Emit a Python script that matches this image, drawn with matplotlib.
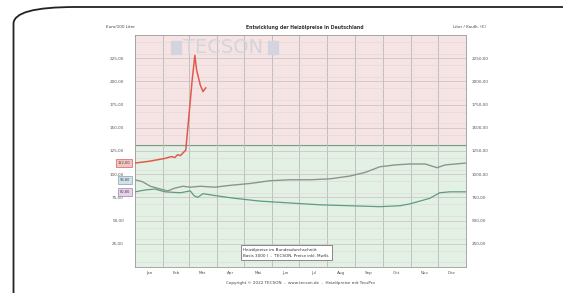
import numpy as np
import matplotlib
matplotlib.use("Agg")
import matplotlib.pyplot as plt
from matplotlib.patches import FancyBboxPatch, Rectangle
from matplotlib.ticker import FuncFormatter

# data (day of year, Euro/100 l)
months = ['Jan', 'Feb', 'Mrz', 'Apr', 'Mai', 'Jun', 'Jul', 'Aug', 'Sep', 'Okt', 'Nov', 'Dez']
month_starts = [0, 31, 59, 90, 120, 151, 181, 212, 243, 273, 304, 334, 365]

x_2022 = [0, 16, 33, 40, 44, 47, 50, 56, 59, 63, 66, 68, 72, 75, 78]
y_2022 = [112, 114, 117, 119, 118, 121, 120, 126, 158, 201, 228, 212, 196, 189, 193]

x_2021 = [0, 8, 17, 28, 36, 44, 53, 61, 72, 88, 105, 127, 149, 171, 193, 215, 237, 254, 270, 287, 303, 320, 333, 342, 365]
y_2021 = [94, 92, 87, 84, 82, 85, 87, 86, 87, 86, 88, 90, 93, 94, 94, 95, 98, 102, 108, 110, 111, 111, 107, 110, 112]

x_2020 = [0, 11, 22, 33, 50, 61, 65, 69, 75, 88, 110, 138, 171, 204, 237, 270, 292, 303, 314, 325, 336, 347, 365]
y_2020 = [81, 83, 84, 81, 80, 82, 77, 75, 79, 77, 74, 71, 69, 67, 66, 65, 66, 68, 71, 74, 80, 81, 81]

threshold = 132
start_labels = ['112,00', '93,80', '80,80']
start_values = [112, 94, 81]

W, H = 563, 293
fig = plt.figure(figsize=(W / 100, H / 100), dpi=100)
fig.patch.set_facecolor('white')

# slide frame with rounded corner
frame = FancyBboxPatch((13.5 / W, -0.5), 2.0, 1.5 - 7 / H,
                       boxstyle="round,pad=0,rounding_size=0.11",
                       transform=fig.transFigure, fill=False, lw=1.3,
                       ec='#222222', mutation_aspect=H / W)
fig.patches.append(frame)

ax = fig.add_axes([135 / W, 1 - 267 / H, 331 / W, 232 / H])
ax.set_xlim(0, 365)
ax.set_ylim(0, 250)
ax.axhspan(threshold, 250, color='#f6e4e4', zorder=0)
ax.axhspan(0, threshold, color='#e3f1e4', zorder=0)
ax.axhline(threshold, color='#7f9a86', lw=0.8, zorder=1)

yt = np.arange(25, 250, 25)
ax.set_yticks(yt)
ax.set_yticks(np.arange(5, 250, 12.5), minor=True)
ax.grid(True, which='major', axis='y', color='#c8c0c0', lw=0.5, zorder=1)
ax.grid(True, which='minor', axis='y', color='#ded6d6', lw=0.4, zorder=1)
for m in month_starts[1:-1]:
    ax.axvline(m, color='#b8b8b8', lw=0.6, zorder=1)

mid = [(a + b) / 2 for a, b in zip(month_starts[:-1], month_starts[1:])]
ax.set_xticks(mid)
ax.set_xticklabels(months, fontsize=3, color='#555555')
ax.yaxis.set_major_formatter(FuncFormatter(lambda v, p: ('%.2f' % v).replace('.', ',')))
ax.tick_params(axis='y', which='both', labelsize=3, colors='#555555', length=0, pad=8)
ax.tick_params(axis='x', length=0, pad=3)
for s in ax.spines.values():
    s.set_color('#999999')
    s.set_linewidth(0.6)

ax2 = ax.twinx()
ax2.set_ylim(0, 250)
ax2.set_yticks(yt)
ax2.yaxis.set_major_formatter(FuncFormatter(lambda v, p: ('%.2f' % (v * 10)).replace('.', ',')))
ax2.tick_params(axis='y', which='both', labelsize=3, colors='#555555', length=0, pad=4)
for s in ax2.spines.values():
    s.set_visible(False)

ax.plot(x_2021, y_2021, color='#8d948e', lw=1.0, zorder=3)
ax.plot(x_2020, y_2020, color='#5d9c80', lw=0.9, zorder=3)
ax.plot(x_2022, y_2022, color='#e05a4f', lw=1.1, zorder=4)

# start value boxes left of the axis
box_fc = ['#f3c4c0', '#d3e2ea', '#e5d3ea']
box_ec = ['#d0605a', '#7fa0b5', '#a080b0']
for lab, v, fc, ec in zip(start_labels, start_values, box_fc, box_ec):
    ax.text(-5, v, lab, fontsize=2.6, ha='right', va='center', color='#444444',
            bbox=dict(boxstyle='square,pad=0.5', fc=fc, ec=ec, lw=0.5),
            clip_on=False, zorder=6)

# watermark
ax.text(97, 236, 'TECSON', fontsize=14, color='#d4d4dc', ha='center', va='center',
        zorder=2)
ax.add_patch(Rectangle((40, 229), 11, 14, color='#d4d4de', zorder=2))
ax.add_patch(Rectangle((147, 229), 11, 14, color='#d4d4de', zorder=2))

# legend box
ax.text(0.327, 0.062, 'Heizölpreise im Bundesdurchschnitt\nBasis 3000 l  -  TECSON, Preise inkl. MwSt.',
        transform=ax.transAxes, fontsize=3, color='#333333', va='center', ha='left',
        linespacing=1.6, zorder=7,
        bbox=dict(boxstyle='square,pad=0.6', fc='white', ec='#777777', lw=0.6))

fig.text(135 / W, 1 - 27 / H, 'Euro/100 Liter', fontsize=3, color='#444444', ha='right', va='center')
fig.text(305 / W, 1 - 27 / H, 'Entwicklung der Heizölpreise in Deutschland', fontsize=3.3,
         color='#333333', ha='center', va='center', fontweight='bold')
fig.text(486 / W, 1 - 27 / H, 'Liter / Kaufk. (€)', fontsize=3, color='#444444', ha='right', va='center')
fig.text(300 / W, 1 - 283 / H, 'Copyright © 2022 TECSON  -  www.tecson.de  -  Heizölpreise mit TecsPro',
         fontsize=3, color='#444444', ha='center', va='center')

fig.savefig('out.png', dpi=100, facecolor='white')
